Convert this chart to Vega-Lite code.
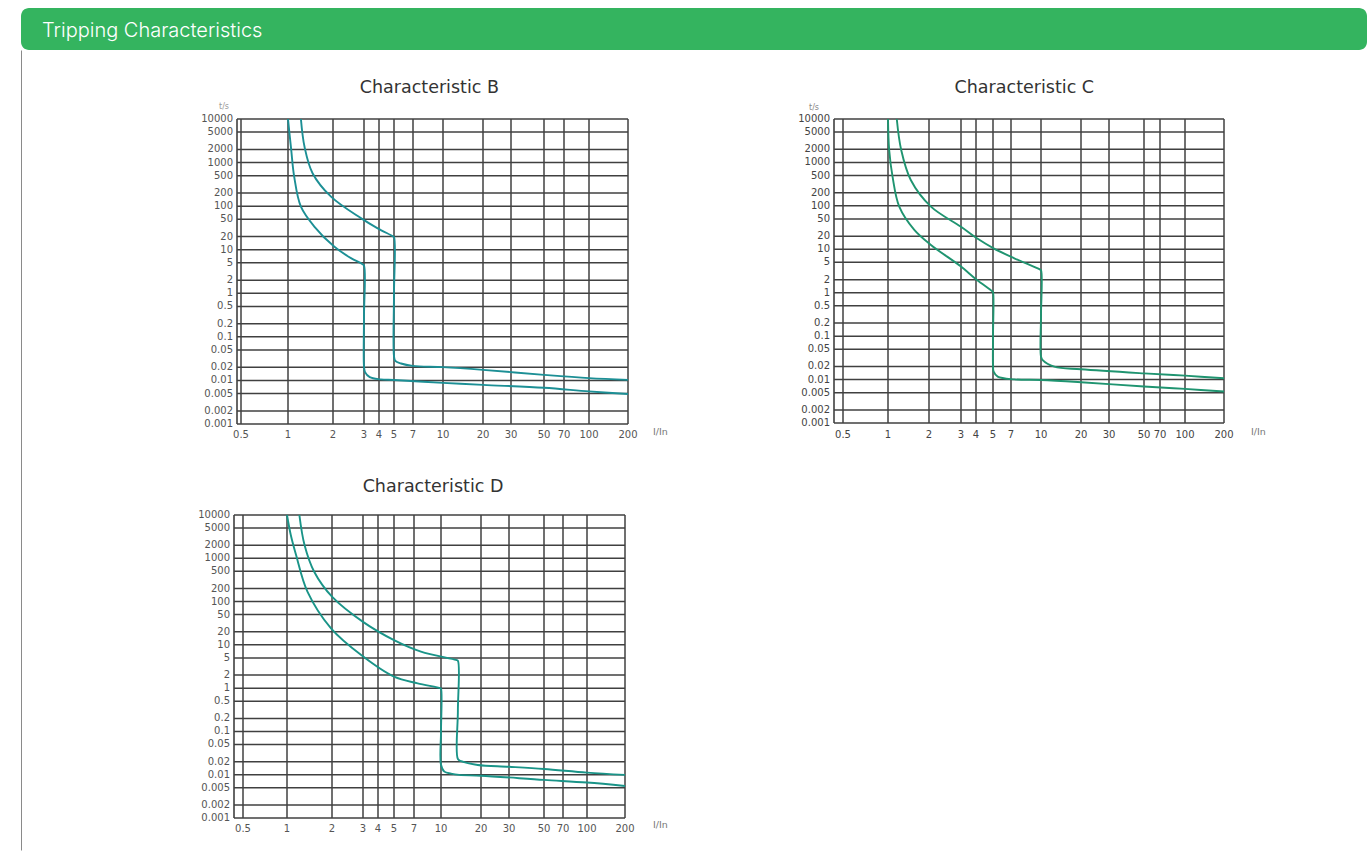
{
  "$schema": "https://vega.github.io/schema/vega-lite/v6.json",
  "padding": {"left": 20, "top": 8, "right": 0, "bottom": 0},
  "background": "white",
  "bounds": "flush",
  "spacing": 0,
  "config": {
    "view": {"stroke": null},
    "text": {"font": "DejaVu Sans"}
  },
  "datasets": {
    "xticks": [{"I": 0.5}, {"I": 1}, {"I": 2}, {"I": 3}, {"I": 4}, {"I": 5}, {"I": 7}, {"I": 10}, {"I": 20}, {"I": 30}, {"I": 50}, {"I": 70}, {"I": 100}, {"I": 200}],
    "yticks": [{"t": 10000}, {"t": 5000}, {"t": 2000}, {"t": 1000}, {"t": 500}, {"t": 200}, {"t": 100}, {"t": 50}, {"t": 20}, {"t": 10}, {"t": 5}, {"t": 2}, {"t": 1}, {"t": 0.5}, {"t": 0.2}, {"t": 0.1}, {"t": 0.05}, {"t": 0.02}, {"t": 0.01}, {"t": 0.005}, {"t": 0.002}, {"t": 0.001}],
    "curves": [
      {"panel": "B", "curve": "B1", "k": 0, "I": 1.0, "t": 10000},
      {"panel": "B", "curve": "B1", "k": 1, "I": 1.05, "t": 2000},
      {"panel": "B", "curve": "B1", "k": 2, "I": 1.1, "t": 475},
      {"panel": "B", "curve": "B1", "k": 3, "I": 1.22, "t": 97},
      {"panel": "B", "curve": "B1", "k": 4, "I": 1.5, "t": 34},
      {"panel": "B", "curve": "B1", "k": 5, "I": 2.03, "t": 11.8},
      {"panel": "B", "curve": "B1", "k": 6, "I": 2.53, "t": 6.4},
      {"panel": "B", "curve": "B1", "k": 7, "I": 2.93, "t": 4.7},
      {"panel": "B", "curve": "B1", "k": 8, "I": 3.0, "t": 4.3},
      {"panel": "B", "curve": "B1", "k": 9, "I": 3.0, "t": 0.3},
      {"panel": "B", "curve": "B1", "k": 10, "I": 3.0, "t": 0.021},
      {"panel": "B", "curve": "B1", "k": 11, "I": 3.06, "t": 0.0155},
      {"panel": "B", "curve": "B1", "k": 12, "I": 3.35, "t": 0.0119},
      {"panel": "B", "curve": "B1", "k": 13, "I": 4.1, "t": 0.0106},
      {"panel": "B", "curve": "B1", "k": 14, "I": 5, "t": 0.0102},
      {"panel": "B", "curve": "B1", "k": 15, "I": 10, "t": 0.0088},
      {"panel": "B", "curve": "B1", "k": 16, "I": 20, "t": 0.0079},
      {"panel": "B", "curve": "B1", "k": 17, "I": 50, "t": 0.0068},
      {"panel": "B", "curve": "B1", "k": 18, "I": 100, "t": 0.0056},
      {"panel": "B", "curve": "B1", "k": 19, "I": 200, "t": 0.0049},
      {"panel": "B", "curve": "B2", "k": 0, "I": 1.22, "t": 10000},
      {"panel": "B", "curve": "B2", "k": 1, "I": 1.29, "t": 2300},
      {"panel": "B", "curve": "B2", "k": 2, "I": 1.46, "t": 570},
      {"panel": "B", "curve": "B2", "k": 3, "I": 1.94, "t": 165},
      {"panel": "B", "curve": "B2", "k": 4, "I": 2.88, "t": 53},
      {"panel": "B", "curve": "B2", "k": 5, "I": 3.9, "t": 31},
      {"panel": "B", "curve": "B2", "k": 6, "I": 4.9, "t": 20.5},
      {"panel": "B", "curve": "B2", "k": 7, "I": 5.0, "t": 19.5},
      {"panel": "B", "curve": "B2", "k": 8, "I": 5.0, "t": 1},
      {"panel": "B", "curve": "B2", "k": 9, "I": 5.0, "t": 0.036},
      {"panel": "B", "curve": "B2", "k": 10, "I": 5.12, "t": 0.028},
      {"panel": "B", "curve": "B2", "k": 11, "I": 5.66, "t": 0.0245},
      {"panel": "B", "curve": "B2", "k": 12, "I": 6.95, "t": 0.0216},
      {"panel": "B", "curve": "B2", "k": 13, "I": 10, "t": 0.0202},
      {"panel": "B", "curve": "B2", "k": 14, "I": 20, "t": 0.0175},
      {"panel": "B", "curve": "B2", "k": 15, "I": 50, "t": 0.0134},
      {"panel": "B", "curve": "B2", "k": 16, "I": 100, "t": 0.0113},
      {"panel": "B", "curve": "B2", "k": 17, "I": 200, "t": 0.0103},
      {"panel": "C", "curve": "C1", "k": 0, "I": 1.0, "t": 10000},
      {"panel": "C", "curve": "C1", "k": 1, "I": 1.02, "t": 1930},
      {"panel": "C", "curve": "C1", "k": 2, "I": 1.08, "t": 470},
      {"panel": "C", "curve": "C1", "k": 3, "I": 1.21, "t": 96},
      {"panel": "C", "curve": "C1", "k": 4, "I": 1.56, "t": 28},
      {"panel": "C", "curve": "C1", "k": 5, "I": 2.05, "t": 12.6},
      {"panel": "C", "curve": "C1", "k": 6, "I": 3.0, "t": 4.0},
      {"panel": "C", "curve": "C1", "k": 7, "I": 4.05, "t": 1.96},
      {"panel": "C", "curve": "C1", "k": 8, "I": 4.95, "t": 1.08},
      {"panel": "C", "curve": "C1", "k": 9, "I": 5.0, "t": 1.02},
      {"panel": "C", "curve": "C1", "k": 10, "I": 5.0, "t": 0.1},
      {"panel": "C", "curve": "C1", "k": 11, "I": 5.0, "t": 0.021},
      {"panel": "C", "curve": "C1", "k": 12, "I": 5.06, "t": 0.0152},
      {"panel": "C", "curve": "C1", "k": 13, "I": 5.46, "t": 0.0117},
      {"panel": "C", "curve": "C1", "k": 14, "I": 7.28, "t": 0.0101},
      {"panel": "C", "curve": "C1", "k": 15, "I": 10, "t": 0.0098},
      {"panel": "C", "curve": "C1", "k": 16, "I": 20, "t": 0.0087},
      {"panel": "C", "curve": "C1", "k": 17, "I": 50, "t": 0.0069},
      {"panel": "C", "curve": "C1", "k": 18, "I": 100, "t": 0.0061},
      {"panel": "C", "curve": "C1", "k": 19, "I": 200, "t": 0.0053},
      {"panel": "C", "curve": "C2", "k": 0, "I": 1.16, "t": 10000},
      {"panel": "C", "curve": "C2", "k": 1, "I": 1.25, "t": 1930},
      {"panel": "C", "curve": "C2", "k": 2, "I": 1.47, "t": 394},
      {"panel": "C", "curve": "C2", "k": 3, "I": 2.05, "t": 96},
      {"panel": "C", "curve": "C2", "k": 4, "I": 3.0, "t": 33},
      {"panel": "C", "curve": "C2", "k": 5, "I": 4.05, "t": 17.9},
      {"panel": "C", "curve": "C2", "k": 6, "I": 5.06, "t": 10.5},
      {"panel": "C", "curve": "C2", "k": 7, "I": 7.28, "t": 6.2},
      {"panel": "C", "curve": "C2", "k": 8, "I": 9.85, "t": 3.45},
      {"panel": "C", "curve": "C2", "k": 9, "I": 10, "t": 3.3},
      {"panel": "C", "curve": "C2", "k": 10, "I": 10, "t": 0.3},
      {"panel": "C", "curve": "C2", "k": 11, "I": 10, "t": 0.034},
      {"panel": "C", "curve": "C2", "k": 12, "I": 10.3, "t": 0.028},
      {"panel": "C", "curve": "C2", "k": 13, "I": 12.6, "t": 0.0198},
      {"panel": "C", "curve": "C2", "k": 14, "I": 20, "t": 0.0173},
      {"panel": "C", "curve": "C2", "k": 15, "I": 50, "t": 0.0139},
      {"panel": "C", "curve": "C2", "k": 16, "I": 100, "t": 0.0123},
      {"panel": "C", "curve": "C2", "k": 17, "I": 200, "t": 0.0107},
      {"panel": "D", "curve": "D1", "k": 0, "I": 1.0, "t": 10000},
      {"panel": "D", "curve": "D1", "k": 1, "I": 1.06, "t": 3450},
      {"panel": "D", "curve": "D1", "k": 2, "I": 1.15, "t": 1190},
      {"panel": "D", "curve": "D1", "k": 3, "I": 1.37, "t": 169},
      {"panel": "D", "curve": "D1", "k": 4, "I": 1.97, "t": 24},
      {"panel": "D", "curve": "D1", "k": 5, "I": 2.93, "t": 5.8},
      {"panel": "D", "curve": "D1", "k": 6, "I": 5.0, "t": 1.84},
      {"panel": "D", "curve": "D1", "k": 7, "I": 7.35, "t": 1.29},
      {"panel": "D", "curve": "D1", "k": 8, "I": 9.9, "t": 1.0},
      {"panel": "D", "curve": "D1", "k": 9, "I": 10, "t": 0.97},
      {"panel": "D", "curve": "D1", "k": 10, "I": 10, "t": 0.1},
      {"panel": "D", "curve": "D1", "k": 11, "I": 10, "t": 0.017},
      {"panel": "D", "curve": "D1", "k": 12, "I": 10.6, "t": 0.0118},
      {"panel": "D", "curve": "D1", "k": 13, "I": 11.9, "t": 0.0106},
      {"panel": "D", "curve": "D1", "k": 14, "I": 13.7, "t": 0.0099},
      {"panel": "D", "curve": "D1", "k": 15, "I": 20, "t": 0.0095},
      {"panel": "D", "curve": "D1", "k": 16, "I": 50, "t": 0.0076},
      {"panel": "D", "curve": "D1", "k": 17, "I": 100, "t": 0.0066},
      {"panel": "D", "curve": "D1", "k": 18, "I": 200, "t": 0.0055},
      {"panel": "D", "curve": "D2", "k": 0, "I": 1.21, "t": 10000},
      {"panel": "D", "curve": "D2", "k": 1, "I": 1.31, "t": 2030},
      {"panel": "D", "curve": "D2", "k": 2, "I": 1.52, "t": 490},
      {"panel": "D", "curve": "D2", "k": 3, "I": 2.0, "t": 130},
      {"panel": "D", "curve": "D2", "k": 4, "I": 3.0, "t": 34},
      {"panel": "D", "curve": "D2", "k": 5, "I": 5.0, "t": 12.9},
      {"panel": "D", "curve": "D2", "k": 6, "I": 7.67, "t": 7.0},
      {"panel": "D", "curve": "D2", "k": 7, "I": 12.97, "t": 4.5},
      {"panel": "D", "curve": "D2", "k": 8, "I": 13.4, "t": 4.3},
      {"panel": "D", "curve": "D2", "k": 9, "I": 13.4, "t": 0.3},
      {"panel": "D", "curve": "D2", "k": 10, "I": 13.4, "t": 0.023},
      {"panel": "D", "curve": "D2", "k": 11, "I": 14.2, "t": 0.0205},
      {"panel": "D", "curve": "D2", "k": 12, "I": 18.9, "t": 0.0168},
      {"panel": "D", "curve": "D2", "k": 13, "I": 30, "t": 0.0153},
      {"panel": "D", "curve": "D2", "k": 14, "I": 50, "t": 0.0136},
      {"panel": "D", "curve": "D2", "k": 15, "I": 100, "t": 0.0112},
      {"panel": "D", "curve": "D2", "k": 16, "I": 200, "t": 0.0099}
    ]
  },
  "vconcat": [
    {
      "width": 1346,
      "height": 42,
      "view": {"fill": "#34b45f", "stroke": null, "cornerRadius": 8},
      "title": {"text": "Tripping Characteristics", "anchor": "start", "orient": "top", "offset": -49, "dx": 21, "color": "#ffffff", "font": "Inter", "fontSize": 20, "fontWeight": 300, "baseline": "alphabetic"},
      "data": {"values": []},
      "mark": "point"
    },
    {
      "width": 1346,
      "height": 800,
      "view": {"fill": "#ffffff", "stroke": "#8a8a8a", "strokeWidth": 1, "strokeDash": [0, 3492, 802, 0]},
      "resolve": {"scale": {"x": "independent", "y": "independent"}},
      "layer": [
        {
          "layer": [
            {
              "data": {"name": "xticks"},
              "mark": {"type": "rule", "color": "#404040", "strokeWidth": 1.5},
              "encoding": {
                "x": {"field": "I", "type": "quantitative", "scale": {"type": "log", "nice": false, "domain": [0.47, 0.5, 1, 2, 3, 4, 5, 7, 10, 20, 30, 50, 70, 100, 200], "range": [216, 220, 267, 312, 343, 358, 373, 392, 422, 462, 490, 523, 543, 568, 607]}, "axis": null},
                "y": {"datum": 0.001, "type": "quantitative", "scale": {"type": "log", "nice": false, "domain": [0.001, 10000], "range": [374, 69]}, "axis": null},
                "y2": {"datum": 10000}
              }
            },
            {
              "data": {"values": [{"I": 0.47}]},
              "mark": {"type": "rule", "color": "#333333", "strokeWidth": 1.5},
              "encoding": {
                "x": {"field": "I", "type": "quantitative", "scale": {"type": "log", "nice": false, "domain": [0.47, 0.5, 1, 2, 3, 4, 5, 7, 10, 20, 30, 50, 70, 100, 200], "range": [216, 220, 267, 312, 343, 358, 373, 392, 422, 462, 490, 523, 543, 568, 607]}, "axis": null},
                "y": {"datum": 0.001, "type": "quantitative", "scale": {"type": "log", "nice": false, "domain": [0.001, 10000], "range": [374, 69]}, "axis": null},
                "y2": {"datum": 10000}
              }
            },
            {
              "data": {"name": "yticks"},
              "mark": {"type": "rule", "color": "#404040", "strokeWidth": 1.5},
              "encoding": {
                "y": {"field": "t", "type": "quantitative", "scale": {"type": "log", "nice": false, "domain": [0.001, 10000], "range": [374, 69]}, "axis": null},
                "x": {"datum": 0.47, "type": "quantitative", "scale": {"type": "log", "nice": false, "domain": [0.47, 0.5, 1, 2, 3, 4, 5, 7, 10, 20, 30, 50, 70, 100, 200], "range": [216, 220, 267, 312, 343, 358, 373, 392, 422, 462, 490, 523, 543, 568, 607]}, "axis": null},
                "x2": {"datum": 200}
              }
            },
            {
              "data": {"name": "curves"},
              "transform": [{"filter": "datum.panel === 'B'"}],
              "mark": {"type": "line", "interpolate": "catmull-rom", "color": "#1c8f95", "strokeWidth": 1.9},
              "encoding": {
                "x": {"field": "I", "type": "quantitative", "scale": {"type": "log", "nice": false, "domain": [0.47, 0.5, 1, 2, 3, 4, 5, 7, 10, 20, 30, 50, 70, 100, 200], "range": [216, 220, 267, 312, 343, 358, 373, 392, 422, 462, 490, 523, 543, 568, 607]}, "axis": null},
                "y": {"field": "t", "type": "quantitative", "scale": {"type": "log", "nice": false, "domain": [0.001, 10000], "range": [374, 69]}, "axis": null},
                "detail": {"field": "curve"},
                "order": {"field": "k"}
              }
            },
            {
              "data": {"name": "yticks"},
              "mark": {"type": "text", "align": "right", "baseline": "middle", "dx": -4, "fontSize": 10, "color": "#555555"},
              "encoding": {
                "y": {"field": "t", "type": "quantitative", "scale": {"type": "log", "nice": false, "domain": [0.001, 10000], "range": [374, 69]}, "axis": null},
                "x": {"datum": 0.47, "type": "quantitative", "scale": {"type": "log", "nice": false, "domain": [0.47, 0.5, 1, 2, 3, 4, 5, 7, 10, 20, 30, 50, 70, 100, 200], "range": [216, 220, 267, 312, 343, 358, 373, 392, 422, 462, 490, 523, 543, 568, 607]}, "axis": null},
                "text": {"field": "t", "type": "quantitative", "format": "~g"}
              }
            },
            {
              "data": {"name": "xticks"},
              "mark": {"type": "text", "align": "center", "baseline": "top", "dy": 6, "fontSize": 10, "color": "#555555"},
              "encoding": {
                "x": {"field": "I", "type": "quantitative", "scale": {"type": "log", "nice": false, "domain": [0.47, 0.5, 1, 2, 3, 4, 5, 7, 10, 20, 30, 50, 70, 100, 200], "range": [216, 220, 267, 312, 343, 358, 373, 392, 422, 462, 490, 523, 543, 568, 607]}, "axis": null},
                "y": {"datum": 0.001, "type": "quantitative", "scale": {"type": "log", "nice": false, "domain": [0.001, 10000], "range": [374, 69]}, "axis": null},
                "text": {"field": "I", "type": "quantitative", "format": "~g"}
              }
            },
            {
              "data": {"values": [{"label": "Characteristic B"}]},
              "mark": {"type": "text", "align": "center", "baseline": "middle", "dy": -31, "fontSize": 17.5, "color": "#333333"},
              "encoding": {
                "x": {"datum": 8.5, "type": "quantitative", "scale": {"type": "log", "nice": false, "domain": [0.47, 0.5, 1, 2, 3, 4, 5, 7, 10, 20, 30, 50, 70, 100, 200], "range": [216, 220, 267, 312, 343, 358, 373, 392, 422, 462, 490, 523, 543, 568, 607]}, "axis": null},
                "y": {"datum": 10000, "type": "quantitative", "scale": {"type": "log", "nice": false, "domain": [0.001, 10000], "range": [374, 69]}, "axis": null},
                "text": {"field": "label"}
              }
            },
            {
              "data": {"values": [{"label": "t/s"}]},
              "mark": {"type": "text", "align": "center", "baseline": "middle", "dx": -13, "dy": -12, "fontSize": 8, "color": "#999999"},
              "encoding": {
                "x": {"datum": 0.47, "type": "quantitative", "scale": {"type": "log", "nice": false, "domain": [0.47, 0.5, 1, 2, 3, 4, 5, 7, 10, 20, 30, 50, 70, 100, 200], "range": [216, 220, 267, 312, 343, 358, 373, 392, 422, 462, 490, 523, 543, 568, 607]}, "axis": null},
                "y": {"datum": 10000, "type": "quantitative", "scale": {"type": "log", "nice": false, "domain": [0.001, 10000], "range": [374, 69]}, "axis": null},
                "text": {"field": "label"}
              }
            },
            {
              "data": {"values": [{"label": "I/In"}]},
              "mark": {"type": "text", "dx": 25, "dy": 8, "align": "left", "baseline": "middle", "fontSize": 9.5, "color": "#777777"},
              "encoding": {
                "x": {"datum": 200, "type": "quantitative", "scale": {"type": "log", "nice": false, "domain": [0.47, 0.5, 1, 2, 3, 4, 5, 7, 10, 20, 30, 50, 70, 100, 200], "range": [216, 220, 267, 312, 343, 358, 373, 392, 422, 462, 490, 523, 543, 568, 607]}, "axis": null},
                "y": {"datum": 0.001, "type": "quantitative", "scale": {"type": "log", "nice": false, "domain": [0.001, 10000], "range": [374, 69]}, "axis": null},
                "text": {"field": "label"}
              }
            }
          ]
        },
        {
          "layer": [
            {
              "data": {"name": "xticks"},
              "mark": {"type": "rule", "color": "#404040", "strokeWidth": 1.5},
              "encoding": {
                "x": {"field": "I", "type": "quantitative", "scale": {"type": "log", "nice": false, "domain": [0.435, 0.5, 1, 2, 3, 4, 5, 7, 10, 20, 30, 50, 70, 100, 200], "range": [813, 822, 867, 908, 940, 955, 972, 990, 1020, 1060, 1088, 1123, 1139, 1164, 1203]}, "axis": null},
                "y": {"datum": 0.001, "type": "quantitative", "scale": {"type": "log", "nice": false, "domain": [0.001, 10000], "range": [373, 69]}, "axis": null},
                "y2": {"datum": 10000}
              }
            },
            {
              "data": {"values": [{"I": 0.435}]},
              "mark": {"type": "rule", "color": "#333333", "strokeWidth": 1.5},
              "encoding": {
                "x": {"field": "I", "type": "quantitative", "scale": {"type": "log", "nice": false, "domain": [0.435, 0.5, 1, 2, 3, 4, 5, 7, 10, 20, 30, 50, 70, 100, 200], "range": [813, 822, 867, 908, 940, 955, 972, 990, 1020, 1060, 1088, 1123, 1139, 1164, 1203]}, "axis": null},
                "y": {"datum": 0.001, "type": "quantitative", "scale": {"type": "log", "nice": false, "domain": [0.001, 10000], "range": [373, 69]}, "axis": null},
                "y2": {"datum": 10000}
              }
            },
            {
              "data": {"name": "yticks"},
              "mark": {"type": "rule", "color": "#404040", "strokeWidth": 1.5},
              "encoding": {
                "y": {"field": "t", "type": "quantitative", "scale": {"type": "log", "nice": false, "domain": [0.001, 10000], "range": [373, 69]}, "axis": null},
                "x": {"datum": 0.435, "type": "quantitative", "scale": {"type": "log", "nice": false, "domain": [0.435, 0.5, 1, 2, 3, 4, 5, 7, 10, 20, 30, 50, 70, 100, 200], "range": [813, 822, 867, 908, 940, 955, 972, 990, 1020, 1060, 1088, 1123, 1139, 1164, 1203]}, "axis": null},
                "x2": {"datum": 200}
              }
            },
            {
              "data": {"name": "curves"},
              "transform": [{"filter": "datum.panel === 'C'"}],
              "mark": {"type": "line", "interpolate": "catmull-rom", "color": "#1f9470", "strokeWidth": 1.9},
              "encoding": {
                "x": {"field": "I", "type": "quantitative", "scale": {"type": "log", "nice": false, "domain": [0.435, 0.5, 1, 2, 3, 4, 5, 7, 10, 20, 30, 50, 70, 100, 200], "range": [813, 822, 867, 908, 940, 955, 972, 990, 1020, 1060, 1088, 1123, 1139, 1164, 1203]}, "axis": null},
                "y": {"field": "t", "type": "quantitative", "scale": {"type": "log", "nice": false, "domain": [0.001, 10000], "range": [373, 69]}, "axis": null},
                "detail": {"field": "curve"},
                "order": {"field": "k"}
              }
            },
            {
              "data": {"name": "yticks"},
              "mark": {"type": "text", "align": "right", "baseline": "middle", "dx": -4, "fontSize": 10, "color": "#444444"},
              "encoding": {
                "y": {"field": "t", "type": "quantitative", "scale": {"type": "log", "nice": false, "domain": [0.001, 10000], "range": [373, 69]}, "axis": null},
                "x": {"datum": 0.435, "type": "quantitative", "scale": {"type": "log", "nice": false, "domain": [0.435, 0.5, 1, 2, 3, 4, 5, 7, 10, 20, 30, 50, 70, 100, 200], "range": [813, 822, 867, 908, 940, 955, 972, 990, 1020, 1060, 1088, 1123, 1139, 1164, 1203]}, "axis": null},
                "text": {"field": "t", "type": "quantitative", "format": "~g"}
              }
            },
            {
              "data": {"name": "xticks"},
              "mark": {"type": "text", "align": "center", "baseline": "top", "dy": 7, "fontSize": 10, "color": "#444444"},
              "encoding": {
                "x": {"field": "I", "type": "quantitative", "scale": {"type": "log", "nice": false, "domain": [0.435, 0.5, 1, 2, 3, 4, 5, 7, 10, 20, 30, 50, 70, 100, 200], "range": [813, 822, 867, 908, 940, 955, 972, 990, 1020, 1060, 1088, 1123, 1139, 1164, 1203]}, "axis": null},
                "y": {"datum": 0.001, "type": "quantitative", "scale": {"type": "log", "nice": false, "domain": [0.001, 10000], "range": [373, 69]}, "axis": null},
                "text": {"field": "I", "type": "quantitative", "format": "~g"}
              }
            },
            {
              "data": {"values": [{"label": "Characteristic C"}]},
              "mark": {"type": "text", "align": "center", "baseline": "middle", "dy": -31, "fontSize": 17.5, "color": "#333333"},
              "encoding": {
                "x": {"datum": 8.2, "type": "quantitative", "scale": {"type": "log", "nice": false, "domain": [0.435, 0.5, 1, 2, 3, 4, 5, 7, 10, 20, 30, 50, 70, 100, 200], "range": [813, 822, 867, 908, 940, 955, 972, 990, 1020, 1060, 1088, 1123, 1139, 1164, 1203]}, "axis": null},
                "y": {"datum": 10000, "type": "quantitative", "scale": {"type": "log", "nice": false, "domain": [0.001, 10000], "range": [373, 69]}, "axis": null},
                "text": {"field": "label"}
              }
            },
            {
              "data": {"values": [{"label": "t/s"}]},
              "mark": {"type": "text", "align": "center", "baseline": "middle", "dx": -20, "dy": -11, "fontSize": 8, "color": "#888888"},
              "encoding": {
                "x": {"datum": 0.435, "type": "quantitative", "scale": {"type": "log", "nice": false, "domain": [0.435, 0.5, 1, 2, 3, 4, 5, 7, 10, 20, 30, 50, 70, 100, 200], "range": [813, 822, 867, 908, 940, 955, 972, 990, 1020, 1060, 1088, 1123, 1139, 1164, 1203]}, "axis": null},
                "y": {"datum": 10000, "type": "quantitative", "scale": {"type": "log", "nice": false, "domain": [0.001, 10000], "range": [373, 69]}, "axis": null},
                "text": {"field": "label"}
              }
            },
            {
              "data": {"values": [{"label": "I/In"}]},
              "mark": {"type": "text", "dx": 27, "dy": 9, "align": "left", "baseline": "middle", "fontSize": 9.5, "color": "#777777"},
              "encoding": {
                "x": {"datum": 200, "type": "quantitative", "scale": {"type": "log", "nice": false, "domain": [0.435, 0.5, 1, 2, 3, 4, 5, 7, 10, 20, 30, 50, 70, 100, 200], "range": [813, 822, 867, 908, 940, 955, 972, 990, 1020, 1060, 1088, 1123, 1139, 1164, 1203]}, "axis": null},
                "y": {"datum": 0.001, "type": "quantitative", "scale": {"type": "log", "nice": false, "domain": [0.001, 10000], "range": [373, 69]}, "axis": null},
                "text": {"field": "label"}
              }
            }
          ]
        },
        {
          "layer": [
            {
              "data": {"name": "xticks"},
              "mark": {"type": "rule", "color": "#404040", "strokeWidth": 1.5},
              "encoding": {
                "x": {"field": "I", "type": "quantitative", "scale": {"type": "log", "nice": false, "domain": [0.435, 0.5, 1, 2, 3, 4, 5, 7, 10, 20, 30, 50, 70, 100, 200], "range": [213, 222, 266, 311, 342, 357, 373, 393, 420, 460, 488, 523, 542, 566, 604]}, "axis": null},
                "y": {"datum": 0.001, "type": "quantitative", "scale": {"type": "log", "nice": false, "domain": [0.001, 10000], "range": [768, 465]}, "axis": null},
                "y2": {"datum": 10000}
              }
            },
            {
              "data": {"values": [{"I": 0.435}]},
              "mark": {"type": "rule", "color": "#333333", "strokeWidth": 1.5},
              "encoding": {
                "x": {"field": "I", "type": "quantitative", "scale": {"type": "log", "nice": false, "domain": [0.435, 0.5, 1, 2, 3, 4, 5, 7, 10, 20, 30, 50, 70, 100, 200], "range": [213, 222, 266, 311, 342, 357, 373, 393, 420, 460, 488, 523, 542, 566, 604]}, "axis": null},
                "y": {"datum": 0.001, "type": "quantitative", "scale": {"type": "log", "nice": false, "domain": [0.001, 10000], "range": [768, 465]}, "axis": null},
                "y2": {"datum": 10000}
              }
            },
            {
              "data": {"name": "yticks"},
              "mark": {"type": "rule", "color": "#404040", "strokeWidth": 1.5},
              "encoding": {
                "y": {"field": "t", "type": "quantitative", "scale": {"type": "log", "nice": false, "domain": [0.001, 10000], "range": [768, 465]}, "axis": null},
                "x": {"datum": 0.435, "type": "quantitative", "scale": {"type": "log", "nice": false, "domain": [0.435, 0.5, 1, 2, 3, 4, 5, 7, 10, 20, 30, 50, 70, 100, 200], "range": [213, 222, 266, 311, 342, 357, 373, 393, 420, 460, 488, 523, 542, 566, 604]}, "axis": null},
                "x2": {"datum": 200}
              }
            },
            {
              "data": {"name": "curves"},
              "transform": [{"filter": "datum.panel === 'D'"}],
              "mark": {"type": "line", "interpolate": "catmull-rom", "color": "#1a9488", "strokeWidth": 1.9},
              "encoding": {
                "x": {"field": "I", "type": "quantitative", "scale": {"type": "log", "nice": false, "domain": [0.435, 0.5, 1, 2, 3, 4, 5, 7, 10, 20, 30, 50, 70, 100, 200], "range": [213, 222, 266, 311, 342, 357, 373, 393, 420, 460, 488, 523, 542, 566, 604]}, "axis": null},
                "y": {"field": "t", "type": "quantitative", "scale": {"type": "log", "nice": false, "domain": [0.001, 10000], "range": [768, 465]}, "axis": null},
                "detail": {"field": "curve"},
                "order": {"field": "k"}
              }
            },
            {
              "data": {"name": "yticks"},
              "mark": {"type": "text", "align": "right", "baseline": "middle", "dx": -4, "fontSize": 10, "color": "#555555"},
              "encoding": {
                "y": {"field": "t", "type": "quantitative", "scale": {"type": "log", "nice": false, "domain": [0.001, 10000], "range": [768, 465]}, "axis": null},
                "x": {"datum": 0.435, "type": "quantitative", "scale": {"type": "log", "nice": false, "domain": [0.435, 0.5, 1, 2, 3, 4, 5, 7, 10, 20, 30, 50, 70, 100, 200], "range": [213, 222, 266, 311, 342, 357, 373, 393, 420, 460, 488, 523, 542, 566, 604]}, "axis": null},
                "text": {"field": "t", "type": "quantitative", "format": "~g"}
              }
            },
            {
              "data": {"name": "xticks"},
              "mark": {"type": "text", "align": "center", "baseline": "top", "dy": 6, "fontSize": 10, "color": "#555555"},
              "encoding": {
                "x": {"field": "I", "type": "quantitative", "scale": {"type": "log", "nice": false, "domain": [0.435, 0.5, 1, 2, 3, 4, 5, 7, 10, 20, 30, 50, 70, 100, 200], "range": [213, 222, 266, 311, 342, 357, 373, 393, 420, 460, 488, 523, 542, 566, 604]}, "axis": null},
                "y": {"datum": 0.001, "type": "quantitative", "scale": {"type": "log", "nice": false, "domain": [0.001, 10000], "range": [768, 465]}, "axis": null},
                "text": {"field": "I", "type": "quantitative", "format": "~g"}
              }
            },
            {
              "data": {"values": [{"label": "Characteristic D"}]},
              "mark": {"type": "text", "align": "center", "baseline": "middle", "dy": -28, "fontSize": 17.5, "color": "#333333"},
              "encoding": {
                "x": {"datum": 9.0, "type": "quantitative", "scale": {"type": "log", "nice": false, "domain": [0.435, 0.5, 1, 2, 3, 4, 5, 7, 10, 20, 30, 50, 70, 100, 200], "range": [213, 222, 266, 311, 342, 357, 373, 393, 420, 460, 488, 523, 542, 566, 604]}, "axis": null},
                "y": {"datum": 10000, "type": "quantitative", "scale": {"type": "log", "nice": false, "domain": [0.001, 10000], "range": [768, 465]}, "axis": null},
                "text": {"field": "label"}
              }
            },
            {
              "data": {"values": [{"label": "I/In"}]},
              "mark": {"type": "text", "dx": 28, "dy": 7, "align": "left", "baseline": "middle", "fontSize": 9.5, "color": "#777777"},
              "encoding": {
                "x": {"datum": 200, "type": "quantitative", "scale": {"type": "log", "nice": false, "domain": [0.435, 0.5, 1, 2, 3, 4, 5, 7, 10, 20, 30, 50, 70, 100, 200], "range": [213, 222, 266, 311, 342, 357, 373, 393, 420, 460, 488, 523, 542, 566, 604]}, "axis": null},
                "y": {"datum": 0.001, "type": "quantitative", "scale": {"type": "log", "nice": false, "domain": [0.001, 10000], "range": [768, 465]}, "axis": null},
                "text": {"field": "label"}
              }
            }
          ]
        }
      ]
    }
  ]
}
